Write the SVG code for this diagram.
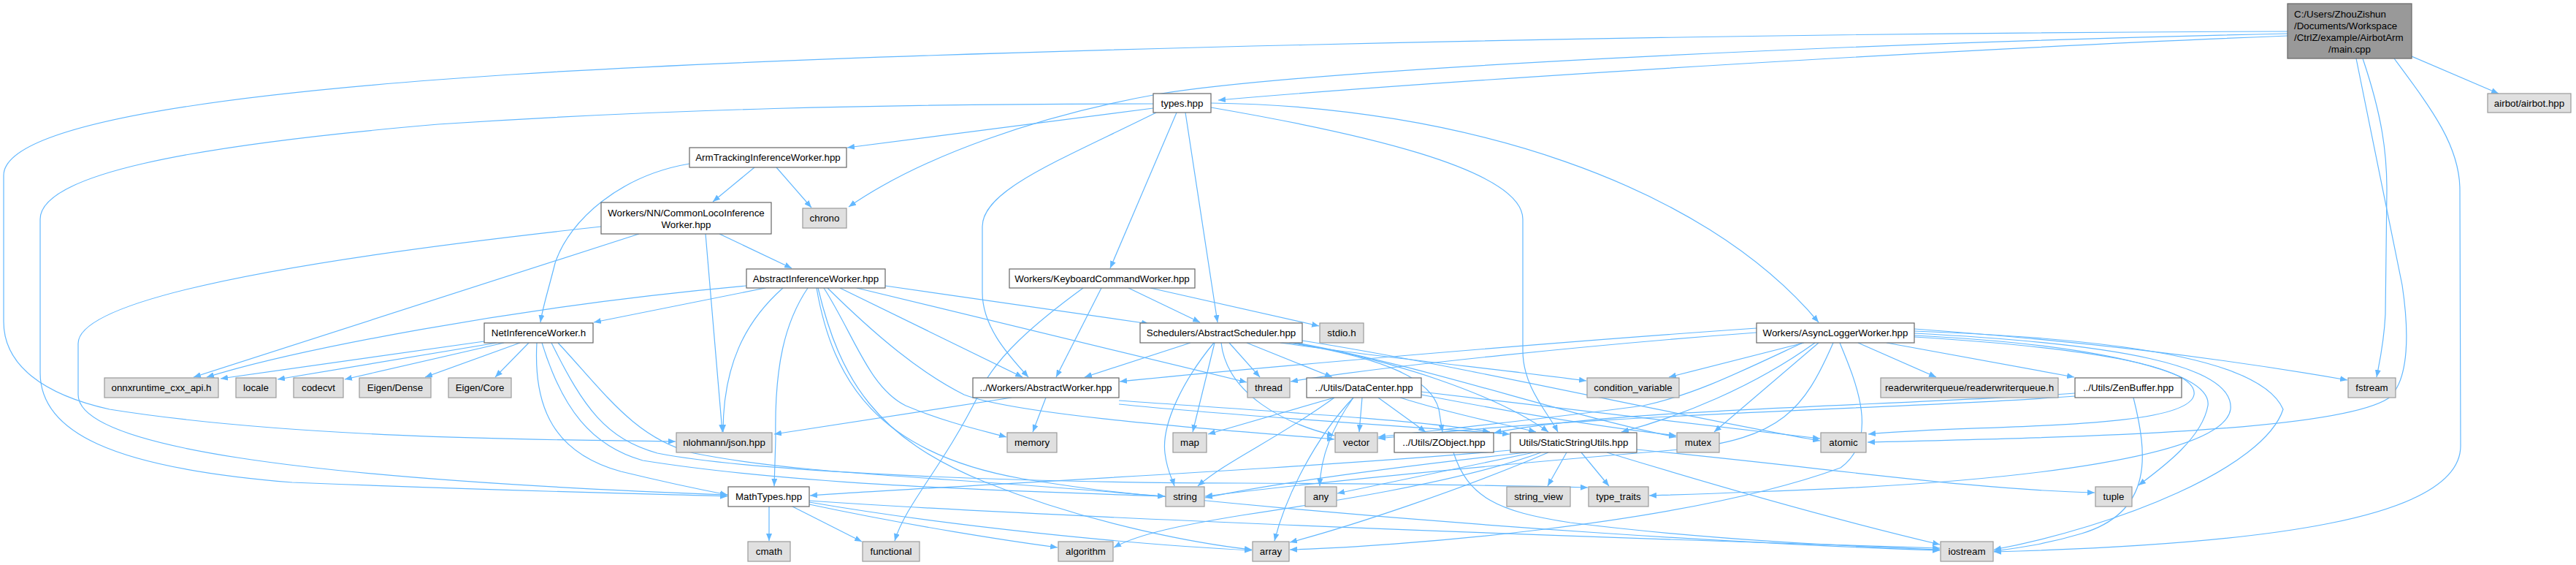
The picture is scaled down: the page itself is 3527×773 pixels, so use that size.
<svg xmlns="http://www.w3.org/2000/svg" width="3527" height="773" viewBox="0 0 3527 773">
<defs>
<marker id="ah" viewBox="0 0 10 8" refX="10" refY="4" markerWidth="10" markerHeight="8" markerUnits="userSpaceOnUse" orient="auto">
<path d="M0,0 L10,4 L0,8 z" fill="#63b8ff"/>
</marker>
</defs>
<style>
.edge{fill:none;stroke:#63b8ff;stroke-width:1.2;marker-end:url(#ah)}
.n rect{fill:#ffffff;stroke:#666666;stroke-width:1.2}
.g rect{fill:#e0e0e0;stroke:#999999;stroke-width:1.2}
.m rect{fill:#999999;stroke:#666666;stroke-width:1.2}
text{font-family:"Liberation Sans",Arial,sans-serif;font-size:13.33px;text-anchor:middle;fill:#000000}
text.l{text-anchor:start}
</style>
<rect x="0" y="0" width="3527" height="773" fill="#ffffff"/>
<g id="edges">
<path class="edge" d="M3132,49 C2700,66 2000,108 1668,137"/>
<path class="edge" d="M3132,46 C2500,60 1800,95 1590,128 C1420,158 1260,215 1162,283"/>
<path class="edge" d="M3132,43 C2300,45 1200,70 700,102 C300,128 5,170 5,240 L5,440 C5,500 60,540 150,560 C400,600 750,602 925,604"/>
<path class="edge" d="M3302,77 L3421,128"/>
<path class="edge" d="M3235,80 C3262,160 3268,210 3268,260 L3266,430 C3264,470 3258,495 3254,516"/>
<path class="edge" d="M3226,80 L3289,390 C3298,450 3300,520 3270,545 C3200,590 2850,598 2557,605"/>
<path class="edge" d="M3278,80 C3330,150 3368,200 3368,260 L3369,610 C3369,710 3100,745 2730,755"/>
<path class="edge" d="M1579,148 L1160,202"/>
<path class="edge" d="M1579,142 C1200,142 900,150 600,170 C250,200 55,240 55,300 L55,510 C55,590 150,640 400,660 C700,672 900,676 996,679"/>
<path class="edge" d="M1611,154 L1520,367"/>
<path class="edge" d="M1623,154 L1667,441"/>
<path class="edge" d="M1583,154 C1450,220 1345,260 1345,310 L1345,400 C1345,450 1385,490 1408,516"/>
<path class="edge" d="M1658,147 C1850,180 2085,230 2085,300 L2085,480 C2085,530 2120,565 2133,591"/>
<path class="edge" d="M1658,141 C2000,145 2330,250 2490,441"/>
<path class="edge" d="M1033,229 L976,276"/>
<path class="edge" d="M1063,229 L1111,284"/>
<path class="edge" d="M944,224 C850,240 780,300 760,360 C750,400 743,420 740,441"/>
<path class="edge" d="M985,320 L1084,367"/>
<path class="edge" d="M823,310 C500,345 107,400 107,470 L107,540 C107,610 400,655 996,677"/>
<path class="edge" d="M875,320 L265,516"/>
<path class="edge" d="M966,320 L989,591"/>
<path class="edge" d="M663,467 L302,518"/>
<path class="edge" d="M680,469 L380,519"/>
<path class="edge" d="M690,469 L472,519"/>
<path class="edge" d="M712,469 L582,516"/>
<path class="edge" d="M724,469 L678,516"/>
<path class="edge" d="M735,469 C730,560 760,620 850,645 C920,662 960,670 996,677"/>
<path class="edge" d="M742,469 C770,560 810,610 880,630 C1100,665 1400,672 1595,679"/>
<path class="edge" d="M755,469 C800,560 830,600 900,620 C1000,640 1300,660 1700,661 C1900,662 2050,664 2174,667"/>
<path class="edge" d="M764,469 C830,540 870,600 950,620 C1100,650 1300,652 1600,680 C2000,720 2400,745 2656,753"/>
<path class="edge" d="M1048,394 L813,441"/>
<path class="edge" d="M1022,391 C700,420 400,480 283,516"/>
<path class="edge" d="M1072,394 C1020,440 990,500 990,591"/>
<path class="edge" d="M1106,394 C1075,440 1060,500 1062,600 L1060,665"/>
<path class="edge" d="M1118,394 C1140,520 1200,620 1400,655 C1480,668 1540,676 1595,679"/>
<path class="edge" d="M1120,394 C1150,520 1200,600 1350,660 C1500,720 1650,745 1714,752"/>
<path class="edge" d="M1128,394 C1170,460 1190,530 1240,555 C1300,580 1350,590 1378,598"/>
<path class="edge" d="M1150,394 L1400,516"/>
<path class="edge" d="M1133,394 C1200,460 1260,510 1320,540 C1400,570 1700,590 1827,601"/>
<path class="edge" d="M1173,394 L1707,523"/>
<path class="edge" d="M1212,391 L1573,443"/>
<path class="edge" d="M1483,394 C1420,440 1360,490 1340,540 C1290,640 1240,690 1225,740"/>
<path class="edge" d="M1508,394 L1446,516"/>
<path class="edge" d="M1545,394 L1643,441"/>
<path class="edge" d="M1575,394 L1806,446"/>
<path class="edge" d="M1630,469 L1485,516"/>
<path class="edge" d="M1662,469 C1620,520 1590,580 1595,620 C1598,645 1605,655 1608,665"/>
<path class="edge" d="M1663,469 L1633,591"/>
<path class="edge" d="M1672,469 C1680,540 1760,580 1827,596"/>
<path class="edge" d="M1683,469 L1725,516"/>
<path class="edge" d="M1707,469 L1824,516"/>
<path class="edge" d="M1753,469 C1900,490 2050,505 2172,521"/>
<path class="edge" d="M1765,469 C1900,490 1960,520 1970,560 L1975,591"/>
<path class="edge" d="M1770,469 C1900,490 2050,540 2120,591"/>
<path class="edge" d="M1775,469 C1950,500 2150,570 2295,598"/>
<path class="edge" d="M1783,466 C2000,500 2300,570 2492,603"/>
<path class="edge" d="M1827,544 L1654,594"/>
<path class="edge" d="M1827,544 C1750,600 1680,630 1640,665"/>
<path class="edge" d="M1853,544 C1800,600 1760,680 1745,740"/>
<path class="edge" d="M1853,544 C1820,590 1808,630 1807,665"/>
<path class="edge" d="M1865,544 L1861,591"/>
<path class="edge" d="M1887,544 L1952,591"/>
<path class="edge" d="M1917,544 C2000,570 2060,580 2103,591"/>
<path class="edge" d="M1946,540 C2100,570 2200,585 2295,596"/>
<path class="edge" d="M1946,536 C2150,560 2350,585 2492,600"/>
<path class="edge" d="M1385,544 L1060,594"/>
<path class="edge" d="M1432,544 L1414,591"/>
<path class="edge" d="M1532,548 C1700,560 1950,575 2040,591"/>
<path class="edge" d="M1532,553 C1700,570 1950,585 2067,594"/>
<path class="edge" d="M1990,619 C2010,680 2050,700 2150,715 C2350,740 2550,748 2656,752"/>
<path class="edge" d="M2090,619 C1900,640 1750,660 1650,681"/>
<path class="edge" d="M2100,619 C2000,640 1900,660 1831,675"/>
<path class="edge" d="M2145,619 L2119,665"/>
<path class="edge" d="M2165,619 L2203,665"/>
<path class="edge" d="M2120,619 C2000,670 1850,720 1766,742"/>
<path class="edge" d="M2110,619 C2000,660 1800,690 1700,705 C1620,718 1560,730 1525,749"/>
<path class="edge" d="M2241,615 C2500,640 2700,670 2868,674"/>
<path class="edge" d="M2200,619 C2400,680 2550,720 2656,745"/>
<path class="edge" d="M2068,616 C1800,640 1300,665 1109,678"/>
<path class="edge" d="M2405,449 C2100,470 1700,505 1533,522"/>
<path class="edge" d="M2405,455 C2200,470 1900,500 1767,522"/>
<path class="edge" d="M2470,469 L2285,516"/>
<path class="edge" d="M2485,469 C2400,530 2300,570 2220,591"/>
<path class="edge" d="M2468,469 C2380,510 2320,540 2250,555 C2100,575 1950,590 1887,598"/>
<path class="edge" d="M2490,469 L2347,591"/>
<path class="edge" d="M2510,469 C2470,560 2440,600 2300,615 C2000,640 1800,660 1650,679"/>
<path class="edge" d="M2519,469 C2540,520 2575,600 2520,640 C2300,720 1900,748 1766,752"/>
<path class="edge" d="M2621,456 C2900,470 3060,500 3054,560 C3045,620 2800,660 2400,673 C2330,676 2290,677 2258,678"/>
<path class="edge" d="M2621,459 C2850,470 3030,505 3023,555 C3015,600 2960,640 2928,664"/>
<path class="edge" d="M2621,453 C2950,465 3100,500 3126,560 C3100,640 2900,720 2730,752"/>
<path class="edge" d="M2621,450 C2900,470 3100,500 3214,520"/>
<path class="edge" d="M2621,461 C2850,475 3010,500 3004,540 C2995,590 2700,580 2558,594"/>
<path class="edge" d="M2544,469 L2651,516"/>
<path class="edge" d="M2583,469 L2840,516"/>
<path class="edge" d="M2841,542 C2600,560 2200,565 1887,600"/>
<path class="edge" d="M2841,538 C2600,555 2200,560 2046,592"/>
<path class="edge" d="M2921,544 C2940,620 2950,700 2850,730 C2800,745 2760,750 2730,754"/>
<path class="edge" d="M1053,693 L1053,740"/>
<path class="edge" d="M1085,693 L1180,741"/>
<path class="edge" d="M1108,690 C1250,720 1380,740 1448,749"/>
<path class="edge" d="M1108,687 C1300,720 1550,745 1714,753"/>
<path class="edge" d="M1108,685 C1400,705 2000,730 2656,750"/>
</g>
<g id="node-main" class="m"><rect x="3132" y="5" width="170" height="75"/><text class="l" x="3141" y="24">C:/Users/ZhouZishun</text><text class="l" x="3141" y="40">/Documents/Workspace</text><text class="l" x="3141" y="56">/CtrlZ/example/AirbotArm</text><text x="3217" y="72">/main.cpp</text></g>
<g id="node-airbot" class="g"><rect x="3406" y="128" width="114" height="26"/><text x="3463" y="146">airbot/airbot.hpp</text></g>
<g id="node-types" class="n"><rect x="1579" y="128" width="79" height="26"/><text x="1618.5" y="146">types.hpp</text></g>
<g id="node-armtracking" class="n"><rect x="944" y="202" width="215" height="27"/><text x="1051.5" y="220">ArmTrackingInferenceWorker.hpp</text></g>
<g id="node-commonloco" class="n"><rect x="823" y="277" width="233" height="43"/><text x="939.5" y="296">Workers/NN/CommonLocoInference</text><text x="939.5" y="312">Worker.hpp</text></g>
<g id="node-chrono" class="g"><rect x="1099" y="285" width="60" height="27"/><text x="1129" y="303">chrono</text></g>
<g id="node-aiw" class="n"><rect x="1022" y="368" width="190" height="26"/><text x="1117" y="386">AbstractInferenceWorker.hpp</text></g>
<g id="node-keyboard" class="n"><rect x="1382" y="368" width="254" height="26"/><text x="1509" y="386">Workers/KeyboardCommandWorker.hpp</text></g>
<g id="node-niw" class="n"><rect x="663" y="442" width="149" height="27"/><text x="737.5" y="460">NetInferenceWorker.h</text></g>
<g id="node-scheduler" class="n"><rect x="1561" y="442" width="222" height="27"/><text x="1672" y="460">Schedulers/AbstractScheduler.hpp</text></g>
<g id="node-stdio" class="g"><rect x="1807" y="442" width="60" height="27"/><text x="1837" y="460">stdio.h</text></g>
<g id="node-asynclogger" class="n"><rect x="2405" y="442" width="216" height="27"/><text x="2513" y="460">Workers/AsyncLoggerWorker.hpp</text></g>
<g id="node-onnx" class="g"><rect x="143" y="517" width="156" height="27"/><text x="221" y="535">onnxruntime_cxx_api.h</text></g>
<g id="node-locale" class="g"><rect x="323" y="517" width="55" height="27"/><text x="350.5" y="535">locale</text></g>
<g id="node-codecvt" class="g"><rect x="402" y="517" width="68" height="27"/><text x="436" y="535">codecvt</text></g>
<g id="node-eigendense" class="g"><rect x="492" y="517" width="98" height="27"/><text x="541" y="535">Eigen/Dense</text></g>
<g id="node-eigencore" class="g"><rect x="614" y="517" width="86" height="27"/><text x="657" y="535">Eigen/Core</text></g>
<g id="node-abstractworker" class="n"><rect x="1332" y="517" width="200" height="27"/><text x="1432" y="535">../Workers/AbstractWorker.hpp</text></g>
<g id="node-thread" class="g"><rect x="1708" y="517" width="58" height="27"/><text x="1737" y="535">thread</text></g>
<g id="node-datacenter" class="n"><rect x="1789" y="517" width="157" height="27"/><text x="1867.5" y="535">../Utils/DataCenter.hpp</text></g>
<g id="node-condvar" class="g"><rect x="2173" y="517" width="126" height="27"/><text x="2236" y="535">condition_variable</text></g>
<g id="node-rwq" class="g"><rect x="2575" y="517" width="243" height="27"/><text x="2696.5" y="535">readerwriterqueue/readerwriterqueue.h</text></g>
<g id="node-zenbuffer" class="n"><rect x="2841" y="517" width="146" height="27"/><text x="2914" y="535">../Utils/ZenBuffer.hpp</text></g>
<g id="node-fstream" class="g"><rect x="3215" y="517" width="65" height="27"/><text x="3247.5" y="535">fstream</text></g>
<g id="node-json" class="g"><rect x="926" y="592" width="131" height="27"/><text x="991.5" y="610">nlohmann/json.hpp</text></g>
<g id="node-memory" class="g"><rect x="1379" y="592" width="68" height="27"/><text x="1413" y="610">memory</text></g>
<g id="node-map" class="g"><rect x="1606" y="592" width="46" height="27"/><text x="1629" y="610">map</text></g>
<g id="node-vector" class="g"><rect x="1828" y="592" width="58" height="27"/><text x="1857" y="610">vector</text></g>
<g id="node-zobject" class="n"><rect x="1909" y="592" width="136" height="27"/><text x="1977" y="610">../Utils/ZObject.hpp</text></g>
<g id="node-ssu" class="n"><rect x="2068" y="592" width="173" height="27"/><text x="2154.5" y="610">Utils/StaticStringUtils.hpp</text></g>
<g id="node-mutex" class="g"><rect x="2296" y="592" width="58" height="27"/><text x="2325" y="610">mutex</text></g>
<g id="node-atomic" class="g"><rect x="2493" y="592" width="62" height="27"/><text x="2524" y="610">atomic</text></g>
<g id="node-mathtypes" class="n"><rect x="997" y="666" width="111" height="27"/><text x="1052.5" y="684">MathTypes.hpp</text></g>
<g id="node-string" class="g"><rect x="1596" y="666" width="53" height="27"/><text x="1622.5" y="684">string</text></g>
<g id="node-any" class="g"><rect x="1787" y="666" width="43" height="27"/><text x="1808.5" y="684">any</text></g>
<g id="node-stringview" class="g"><rect x="2063" y="666" width="87" height="27"/><text x="2106.5" y="684">string_view</text></g>
<g id="node-typetraits" class="g"><rect x="2175" y="666" width="82" height="27"/><text x="2216" y="684">type_traits</text></g>
<g id="node-tuple" class="g"><rect x="2869" y="666" width="50" height="27"/><text x="2894" y="684">tuple</text></g>
<g id="node-cmath" class="g"><rect x="1024" y="741" width="58" height="27"/><text x="1053" y="759">cmath</text></g>
<g id="node-functional" class="g"><rect x="1181" y="741" width="78" height="27"/><text x="1220" y="759">functional</text></g>
<g id="node-algorithm" class="g"><rect x="1449" y="741" width="75" height="27"/><text x="1486.5" y="759">algorithm</text></g>
<g id="node-array" class="g"><rect x="1715" y="741" width="50" height="27"/><text x="1740" y="759">array</text></g>
<g id="node-iostream" class="g"><rect x="2657" y="741" width="72" height="27"/><text x="2693" y="759">iostream</text></g>
</svg>
